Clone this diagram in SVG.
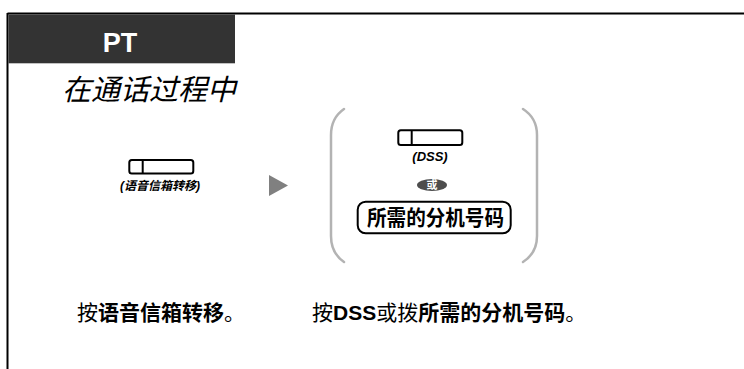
<svg xmlns="http://www.w3.org/2000/svg" width="744" height="369" viewBox="0 0 744 369">
<style>
.cjk{font-family:"Liberation Sans","Noto Sans CJK SC",sans-serif}
.btn{fill:#fff;stroke:#000;stroke-width:2}
.br{fill:none;stroke:#b3b3b3;stroke-width:2.5;stroke-linecap:round}
.lbl{font-family:"Liberation Sans","Noto Sans CJK SC",sans-serif;font-weight:bold;font-style:italic;text-anchor:middle}
.b{font-weight:bold}
</style>
<rect width="744" height="369" fill="#fff"/>
<g id="frame">
<line x1="7.5" y1="13.5" x2="744" y2="13.5" stroke="#000" stroke-width="2"/>
<line x1="7.5" y1="13" x2="7.5" y2="369" stroke="#000" stroke-width="2"/>
<rect x="8.5" y="14.5" width="226.5" height="48.8" fill="#333"/>
<text x="120" y="52" text-anchor="middle" font-family="Liberation Sans,Arial,sans-serif" font-weight="bold" font-size="27" fill="#fff">PT</text>
<text x="62" y="100" class="cjk" font-size="29" font-style="italic" fill="#000">在通话过程中</text>
</g>
<g id="key-vm">
<rect x="129.3" y="160" width="64" height="13.5" rx="2.5" class="btn"/>
<line x1="142.7" y1="160" x2="142.7" y2="173.5" stroke="#000" stroke-width="2"/>
<text x="160" y="190" class="lbl" font-size="12">(语音信箱转移)</text>
</g>
<g id="connectors">
<polygon points="269,175 288,185.5 269,196" fill="#808080"/>
</g>
<g id="choice">
<path class="br" d="M344,109 Q331,118 331,135 L331,236 Q331,253 344,262"/>
<path class="br" d="M523,109 Q537,118 537,135 L537,236 Q537,253 523,262"/>
</g>
<g id="key-dss">
<rect x="398.3" y="130.3" width="64" height="14.7" rx="2.5" class="btn"/>
<line x1="411.7" y1="130.3" x2="411.7" y2="145" stroke="#000" stroke-width="2"/>
<text x="430" y="161" class="lbl" font-size="13">(DSS)</text>
</g>
<g id="or">
<ellipse cx="432" cy="185" rx="15" ry="6" fill="#4d4d4d"/>
<text x="432" y="189" text-anchor="middle" class="cjk b" font-size="11" fill="#fff">或</text>
</g>
<g id="ext-number">
<rect x="357.7" y="201.7" width="153" height="31.6" rx="8" fill="#fff" stroke="#000" stroke-width="2"/>
<text x="367" y="225" class="cjk b" font-size="21" textLength="137" lengthAdjust="spacingAndGlyphs">所需的分机号码</text>
</g>
<g id="captions">
<text x="77" y="320" class="cjk" font-size="21">按<tspan class="b">语音信箱转移</tspan>。</text>
<text x="312" y="320" class="cjk" font-size="21">按<tspan class="b">DSS</tspan>或拨<tspan class="b">所需的分机号码</tspan>。</text>
</g>
</svg>
